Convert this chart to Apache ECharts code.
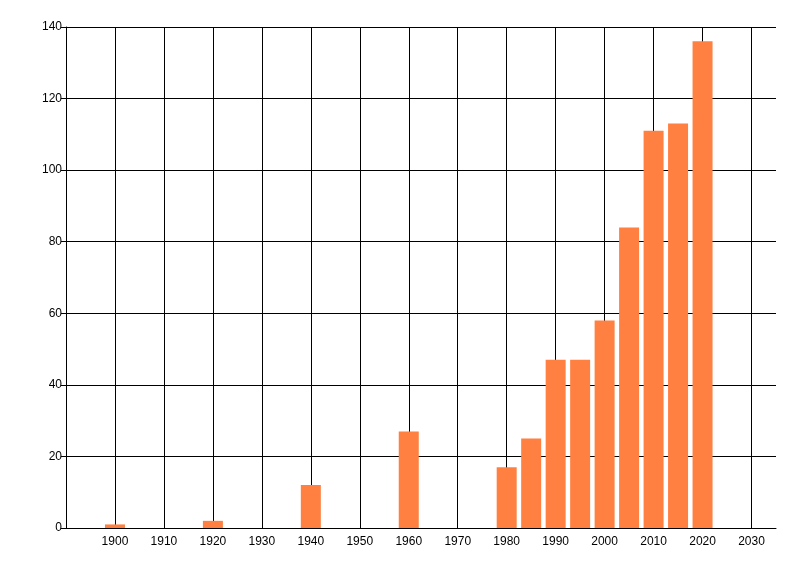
<!DOCTYPE html>
<html>
<head>
<meta charset="utf-8">
<script src="https://cdn.jsdelivr.net/npm/echarts@6/dist/echarts.min.js"></script>
<style>html,body{margin:0;padding:0;background:#fff;}#c{width:800px;height:576px;}</style>
</head>
<body>
<div id="c"></div>
<script>
const years = [1900, 1920, 1940, 1960, 1980, 1985, 1990, 1995, 2000, 2005, 2010, 2015, 2020];
const counts = [1, 2, 12, 27, 17, 25, 47, 47, 58, 84, 111, 113, 136];
const xMin = 1890, xMax = 2035, xStep = 10;
const yMin = 0, yMax = 140, yStep = 20;

const chart = echarts.init(document.getElementById('c'), null, {renderer: 'canvas'});
chart.setOption({
  animation: false,
  backgroundColor: '#ffffff',
  grid: {left: 66, right: 24, top: 27, bottom: 48, containLabel: false},
  xAxis: {
    type: 'value', min: xMin, max: xMax, interval: xStep,
    axisLine: {show: true, lineStyle: {color: '#000', width: 1}},
    axisTick: {show: false},
    axisLabel: {
      color: '#000', fontFamily: 'Liberation Sans, Arial', fontSize: 12, margin: 8,
      formatter: v => (v < 1900 || v > 2030) ? '' : String(v)
    },
    splitLine: {show: true, showMinLine: false, showMaxLine: false, lineStyle: {color: '#000', width: 1}}
  },
  yAxis: {
    type: 'value', min: yMin, max: yMax, interval: yStep,
    axisLine: {show: true, lineStyle: {color: '#000', width: 1}},
    axisTick: {show: true, length: 5, lineStyle: {color: '#000'}},
    axisLabel: {color: '#000', fontFamily: 'Liberation Sans, Arial', fontSize: 12, margin: 4},
    splitLine: {show: true, lineStyle: {color: '#000', width: 1}}
  },
  series: [{
    type: 'bar',
    data: years.map((y, i) => [y, counts[i]]),
    barWidth: 20,
    itemStyle: {color: '#FF8040'}
  }]
});
</script>
</body>
</html>
